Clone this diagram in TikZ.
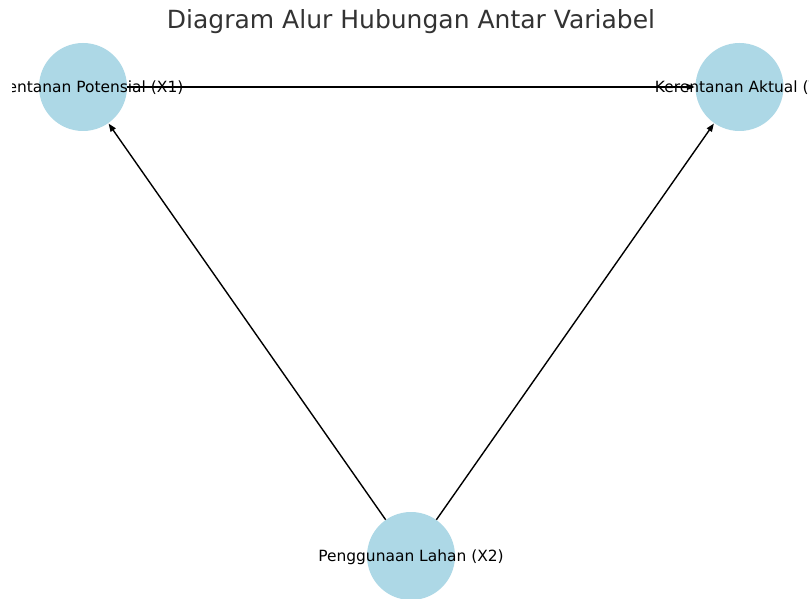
\documentclass[tikz,border=0pt]{standalone}
\usepackage{fontspec}
\setmainfont{DejaVu Sans}
\usetikzlibrary{arrows.meta}
\definecolor{nodeblue}{HTML}{ADD8E6}
\definecolor{titlegray}{HTML}{333333}
\tikzset{
  vnode/.style={circle, fill=nodeblue, draw=none, minimum size=88pt, inner sep=0pt},
  vlabel/.style={anchor=base, inner sep=0pt, font=\fontsize{15.45pt}{18pt}\selectfont, text=black},
  flow/.style={draw=black, line width=1.4pt, -{Triangle[length=8pt,width=6pt]}, shorten >=0.5pt},
}
\begin{document}
\begin{tikzpicture}[x=1pt,y=1pt]
\useasboundingbox (0,0) rectangle (812,598);
\clip (0,0) rectangle (812,598);
\fill[white] (0,0) rectangle (812,598);
\node[anchor=base, inner sep=0pt, font=\fontsize{25pt}{30pt}\selectfont, text=titlegray] (title) at (411,569) {Diagram Alur Hubungan Antar Variabel};
\node[vnode] (x1) at (83,511) {};
\node[vnode] (y) at (739.5,511) {};
\node[vnode] (x2) at (411,42) {};
\draw[flow] (x1) -- (y);
\draw[flow] (x2) -- (x1);
\draw[flow] (x2) -- (y);
\begin{scope}
\clip (12,0) rectangle (808,598);
\node[vlabel] (lx1) at ([yshift=-5.6pt]x1.center) {Kerentanan Potensial (X1)};
\node[vlabel] (ly) at ([yshift=-5.6pt]y.center) {Kerentanan Aktual (Y)};
\node[vlabel] (lx2) at ([yshift=-5.6pt]x2.center) {Penggunaan Lahan (X2)};
\end{scope}
\end{tikzpicture}
\end{document}
